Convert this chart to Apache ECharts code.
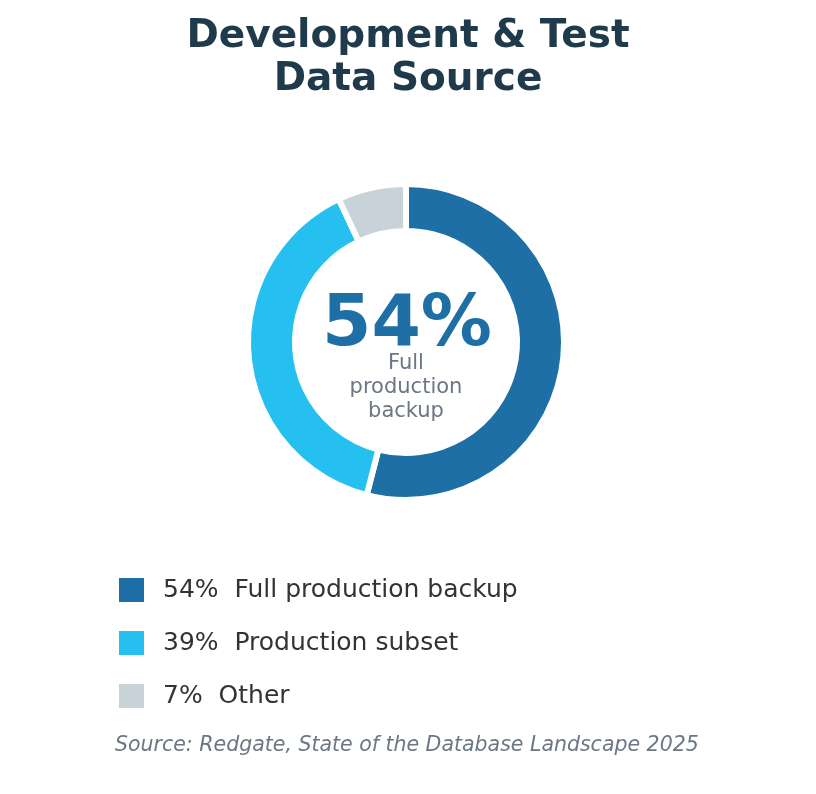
<!DOCTYPE html>
<html lang="en">
<head>
    <meta charset="UTF-8">
    <title>Development & Test Data Source</title>
    <style>
        html, body { margin: 0; padding: 0; background: #fff; }
        #donutChart { width: 816px; height: 794px; }
    </style>
</head>
<body>
<div id="donutChart"></div>
<script src="https://cdn.jsdelivr.net/npm/echarts@6/dist/echarts.min.js"></script>
<script type="text/javascript">
    var categories = ['Full production backup', 'Production subset', 'Other'];
    var shares = [54, 39, 7];
    var sliceColors = ['#1d6fa5', '#25c0ef', '#c8d2d9'];

    var fontName = '"DejaVu Sans", sans-serif';

    window.onload = function () {
        var myChart = echarts.init(document.getElementById('donutChart'));
        var pieData = [];
        for (var i = 0; i < categories.length; i++) {
            pieData.push({name: categories[i], value: shares[i], itemStyle: {color: sliceColors[i]}});
        }
        var option = {
            animation: false,
            title: [
                {
                    text: 'Development & Test\nData Source',
                    left: 'center',
                    top: 15,
                    padding: 0,
                    textStyle: {fontFamily: fontName, fontSize: 39, fontWeight: 'bold', color: '#1f3a4a', lineHeight: 43}
                },
                {
                    text: 'Source: Redgate, State of the Database Landscape 2025',
                    left: 115,
                    top: 736,
                    padding: 0,
                    textStyle: {fontFamily: fontName, fontSize: 20.5, fontStyle: 'italic', fontWeight: 'normal', color: '#6b7784'}
                }
            ],
            graphic: [
                {
                    type: 'text',
                    x: 407,
                    y: 327,
                    style: {text: shares[0] + '%', font: 'bold 71px ' + fontName, fill: '#1d6fa5', align: 'center', verticalAlign: 'middle'}
                },
                {
                    type: 'text',
                    x: 406,
                    y: 388,
                    style: {text: 'Full\nproduction\nbackup', font: '21px ' + fontName, fill: '#6b7784', lineHeight: 24, align: 'center', verticalAlign: 'middle'}
                }
            ],
            legend: {
                orient: 'vertical',
                left: 117,
                top: 576,
                padding: 0,
                itemWidth: 27,
                itemHeight: 26,
                itemGap: 25,
                icon: 'rect',
                selectedMode: false,
                formatter: function (name) {
                    return shares[categories.indexOf(name)] + '%  ' + name;
                },
                textStyle: {fontFamily: fontName, fontSize: 25, lineHeight: 26, color: '#333333', padding: [0, 0, 0, 13]},
                data: categories
            },
            series: [{
                type: 'pie',
                center: [406, 342],
                radius: [111, 158],
                startAngle: 90,
                clockwise: true,
                label: {show: false},
                labelLine: {show: false},
                emphasis: {disabled: true},
                itemStyle: {borderColor: '#ffffff', borderWidth: 6},
                data: pieData
            }]
        };
        myChart.setOption(option);
    };
</script>
</body>
</html>
